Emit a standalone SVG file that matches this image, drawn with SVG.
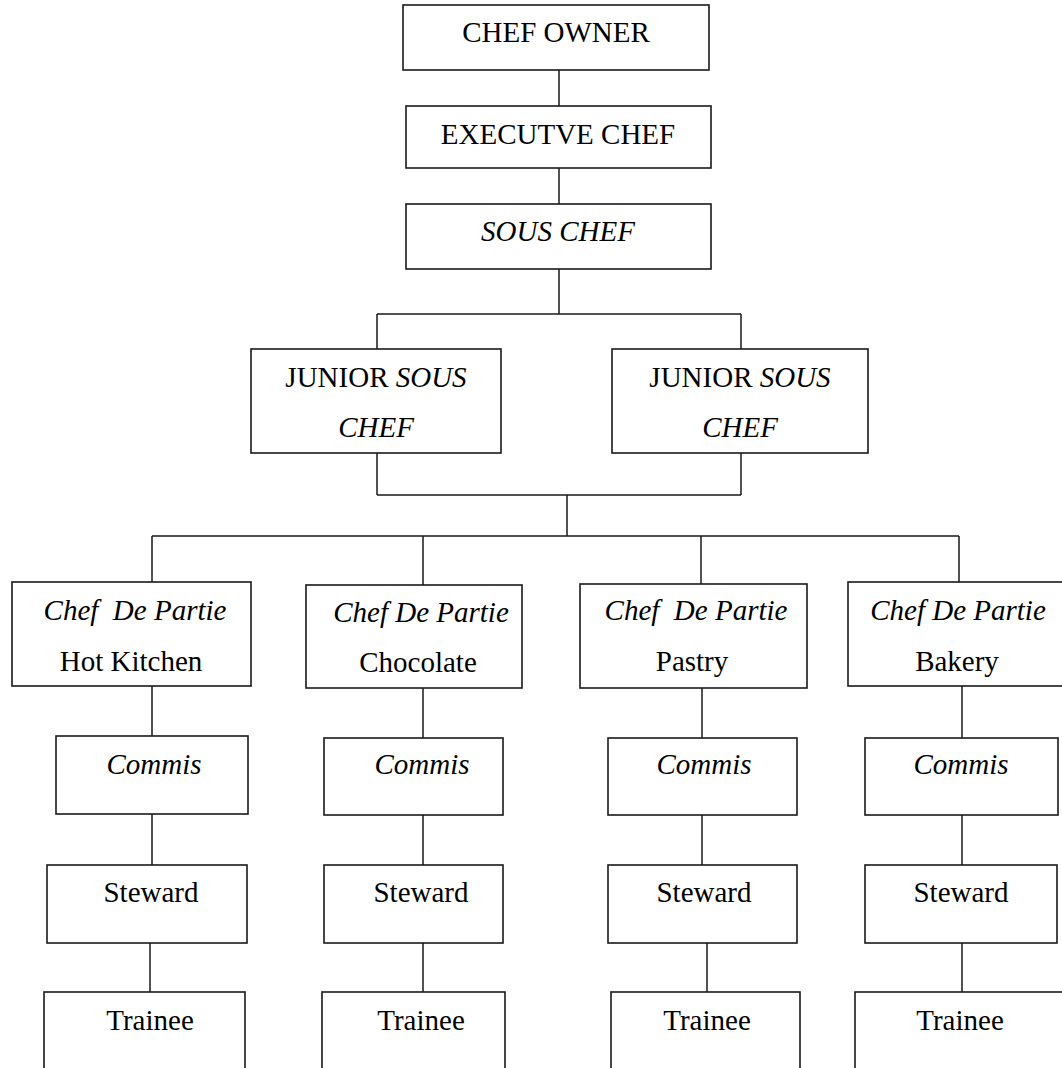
<svg xmlns="http://www.w3.org/2000/svg" width="1062" height="1068" viewBox="0 0 1062 1068">
<style>
.box{fill:#fff;stroke:#1a1a1a;stroke-width:1.6}
.ln{fill:none;stroke:#1a1a1a;stroke-width:1.5}
text{font-family:"Liberation Serif","Times New Roman",serif;font-size:29px;fill:#000;text-anchor:middle;white-space:pre}
.i{font-style:italic}
</style>
<rect width="1062" height="1068" fill="#fff"/>
<g id="connectors" class="ln">
<path d="M559 70V106M559 168V204M559 269V314M377 314H741M377 314V349M741 314V349"/>
<path d="M377 453V495M741 453V495M377 495H741M567 495V536M152 536H959M152 536V582M423 536V585M701 536V584M959 536V582"/>
<path d="M152 686V736M423 688V738M702 688V738M962 686V738"/>
<path d="M152 814V865M423 815V865M702 815V865M962 815V865"/>
<path d="M150 943V992M423 943V992M707 943V992M962 943V992"/>
</g>
<g id="chef-owner"><rect class="box" x="403" y="5" width="306" height="65"/><text x="556" y="42">CHEF OWNER</text></g>
<g id="executive-chef"><rect class="box" x="406" y="106" width="305" height="62"/><text x="558" y="144">EXECUTVE CHEF</text></g>
<g id="sous-chef"><rect class="box" x="406" y="204" width="305" height="65"/><text class="i" x="558" y="241">SOUS CHEF</text></g>
<g id="junior-sous-chef-1"><rect class="box" x="251" y="349" width="250" height="104"/><text x="376" y="387">JUNIOR <tspan class="i">SOUS</tspan></text><text class="i" x="376" y="437">CHEF</text></g>
<g id="junior-sous-chef-2"><rect class="box" x="612" y="349" width="256" height="104"/><text x="740" y="387">JUNIOR <tspan class="i">SOUS</tspan></text><text class="i" x="740" y="437">CHEF</text></g>
<g id="cdp-hot-kitchen"><rect class="box" x="12" y="582" width="239" height="104"/><text class="i" x="135" y="620">Chef  De Partie</text><text x="131" y="671">Hot Kitchen</text></g>
<g id="cdp-chocolate"><rect class="box" x="306" y="585" width="216" height="103"/><text class="i" x="421" y="622">Chef De Partie</text><text x="418" y="672">Chocolate</text></g>
<g id="cdp-pastry"><rect class="box" x="580" y="584" width="227" height="104"/><text class="i" x="696" y="620">Chef  De Partie</text><text x="692" y="671">Pastry</text></g>
<g id="cdp-bakery"><rect class="box" x="848" y="582" width="216" height="104"/><text class="i" x="958" y="620">Chef De Partie</text><text x="957" y="671">Bakery</text></g>
<g id="commis-1"><rect class="box" x="56" y="736" width="192" height="78"/><text class="i" x="154" y="774">Commis</text></g>
<g id="commis-2"><rect class="box" x="324" y="738" width="179" height="77"/><text class="i" x="422" y="774">Commis</text></g>
<g id="commis-3"><rect class="box" x="608" y="738" width="189" height="77"/><text class="i" x="704" y="774">Commis</text></g>
<g id="commis-4"><rect class="box" x="865" y="738" width="193" height="77"/><text class="i" x="961" y="774">Commis</text></g>
<g id="steward-1"><rect class="box" x="47" y="865" width="200" height="78"/><text x="151" y="902">Steward</text></g>
<g id="steward-2"><rect class="box" x="324" y="865" width="179" height="78"/><text x="421" y="902">Steward</text></g>
<g id="steward-3"><rect class="box" x="608" y="865" width="189" height="78"/><text x="704" y="902">Steward</text></g>
<g id="steward-4"><rect class="box" x="865" y="865" width="192" height="78"/><text x="961" y="902">Steward</text></g>
<g id="trainee-1"><rect class="box" x="44" y="992" width="201" height="90"/><text x="150" y="1030">Trainee</text></g>
<g id="trainee-2"><rect class="box" x="322" y="992" width="183" height="90"/><text x="421" y="1030">Trainee</text></g>
<g id="trainee-3"><rect class="box" x="611" y="992" width="189" height="90"/><text x="707" y="1030">Trainee</text></g>
<g id="trainee-4"><rect class="box" x="855" y="992" width="210" height="90"/><text x="960" y="1030">Trainee</text></g>
</svg>
